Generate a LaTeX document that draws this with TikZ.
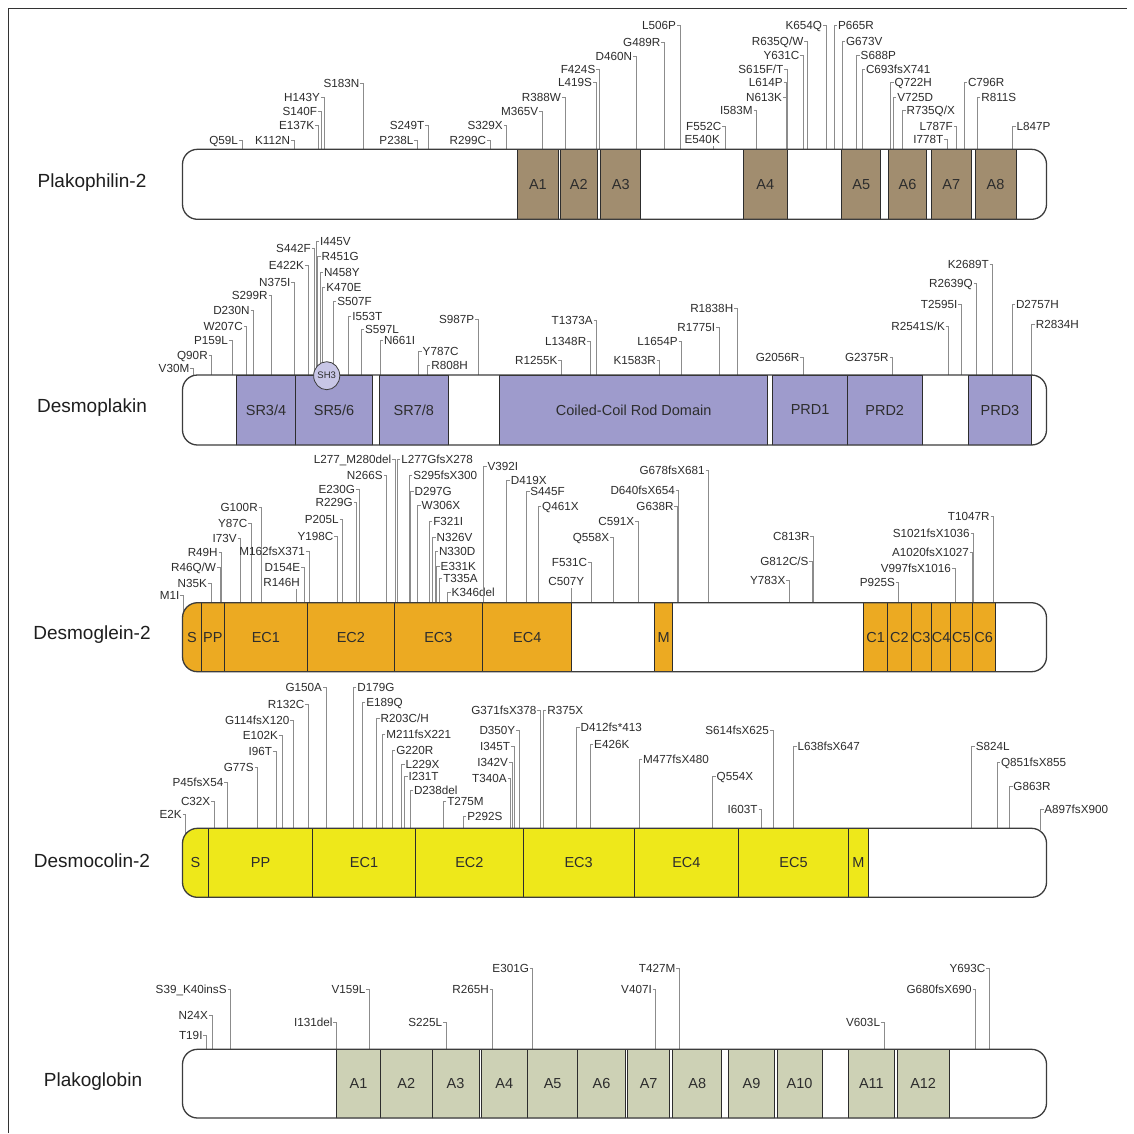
\documentclass[tikz,border=0pt]{standalone}
\usepackage{fontspec}
\setmainfont{Liberation Sans}
\usetikzlibrary{shapes.geometric}
\definecolor{pkpc}{RGB}{161,141,111}
\definecolor{dspc}{RGB}{158,155,204}
\definecolor{dsgc}{RGB}{236,170,34}
\definecolor{dscc}{RGB}{238,232,26}
\definecolor{jupc}{RGB}{205,209,181}
\definecolor{sh3c}{RGB}{200,198,230}
\definecolor{labc}{RGB}{45,45,45}
\definecolor{leadc}{RGB}{140,140,140}
\definecolor{domc}{RGB}{45,45,45}
\definecolor{barc}{RGB}{60,60,60}
\definecolor{namec}{RGB}{30,30,30}
\newcount\mylbc
\newcommand\labL[3]{\global\advance\mylbc by 1
  \node[lab,anchor=east] (lab\the\mylbc) at ({#1-3.8},#2) {#3};
  \draw[lead] ([xshift=0.7pt]lab\the\mylbc.east) -- (#1,#2) -- (#1,{\BT+2});}
\newcommand\labLe[4]{\global\advance\mylbc by 1
  \node[lab,anchor=east] (lab\the\mylbc) at ({#1-3.8},#2) {#4};
  \draw[lead] ([xshift=0.7pt]lab\the\mylbc.east) -- (#1,#2) -- (#1,#3);}
\newcommand\labR[3]{\global\advance\mylbc by 1
  \node[lab,anchor=west] (lab\the\mylbc) at ({#1+3.8},#2) {#3};
  \draw[lead] ([xshift=-0.7pt]lab\the\mylbc.west) -- (#1,#2) -- (#1,{\BT+2});}
\newcommand\labU[4]{\global\advance\mylbc by 1
  \node[lab,anchor=east] (lab\the\mylbc) at (#1,#2) {#4};
  \draw[lead] (#3,{#2+6.5}) -- (#3,{\BT+2});}
\newcommand\dombox[3]{\global\advance\mylbc by 1
  \draw[dom,fill=\BC] (#1,\BT) rectangle (#2,\BB);
  \node[dlab] (dom\the\mylbc) at ({(#1+#2)/2},{(\BT+\BB)/2}) {#3};}
\newcommand\barclip{\clip[rounded corners=15pt] (182.5,\BT) rectangle (1046.5,\BB);
  \fill[white] (182.5,\BT) rectangle (1046.5,\BB);}
\newcommand\baroutline{\draw[outline] (182.5,\BT) rectangle (1046.5,\BB);}
\begin{document}
\begin{tikzpicture}[x=1pt,y=-1pt,
  lab/.style={font=\fontsize{11.7}{13}\selectfont, text=labc, inner sep=0pt, text height=8.4pt, text depth=0pt},
  lead/.style={draw=leadc, line width=0.9pt},
  dom/.style={draw=domc, line width=1pt},
  dlab/.style={font=\fontsize{14.5}{16}\selectfont, text=labc, inner sep=0pt},
  pname/.style={font=\fontsize{19}{22}\selectfont, text=namec, inner sep=0pt},
  outline/.style={draw=barc, line width=1.3pt, rounded corners=15pt}]
\useasboundingbox (0,0) rectangle (1134,1133);
\fill[white] (0,0) rectangle (1134,1133);
\draw[line width=1.2pt, draw=black!80] (8.5,1133) -- (8.5,8.5) -- (1126.5,8.5);

%% ---------------- Plakophilin-2
\def\BT{149.3}\def\BB{219.3}\def\BC{pkpc}
\node[pname] (pkp) at (92,183) {Plakophilin-2};
\labL{242}{140}{Q59L}
\labL{294}{140}{K112N}
\labL{318.3}{125.5}{E137K}
\labL{321}{111.5}{S140F}
\labL{324}{97}{H143Y}
\labL{363.3}{83}{S183N}
\labL{417.3}{140}{P238L}
\labL{428.3}{125.5}{S249T}
\labL{490}{140}{R299C}
\labL{506.7}{125.5}{S329X}
\labL{542.3}{111.5}{M365V}
\labL{565}{97.3}{R388W}
\labL{596}{82.7}{L419S}
\labL{599.3}{69.3}{F424S}
\labL{636}{56.7}{D460N}
\labL{664.3}{42}{G489R}
\labL{680}{25.3}{L506P}
\labU{720}{139.5}{713}{E540K}
\labL{725.3}{126}{F552C}
\labL{756.7}{110.7}{I583M}
\labL{786}{97.3}{N613K}
\labL{786.7}{82.7}{L614P}
\labL{787.3}{69.3}{S615F/T}
\labL{803.3}{55}{Y631C}
\labL{807.3}{41.7}{R635Q/W}
\labL{826}{25}{K654Q}
\labR{834}{25}{P665R}
\labR{842}{41.7}{G673V}
\labR{856.7}{55}{S688P}
\labR{862}{69.3}{C693fsX741}
\labR{890.7}{82.7}{Q722H}
\labR{893.3}{97.3}{V725D}
\labR{902.7}{110.7}{R735Q/X}
\labL{947.3}{139.3}{I778T}
\labL{956.7}{126}{L787F}
\labR{964}{82.7}{C796R}
\labR{977.3}{97.3}{R811S}
\labR{1012.7}{126}{L847P}
\begin{scope}
\barclip
\dombox{517.3}{558.5}{A1}
\dombox{560.5}{597}{A2}
\dombox{600.7}{640.7}{A3}
\dombox{743.3}{787.3}{A4}
\dombox{841.7}{880.7}{A5}
\dombox{888.3}{926.7}{A6}
\dombox{931}{971.7}{A7}
\dombox{975}{1016}{A8}
\end{scope}
\baroutline

%% ---------------- Desmoplakin
\def\BT{375}\def\BB{445}\def\BC{dspc}
\node[pname] (dsp) at (92,408) {Desmoplakin};
\labL{193.3}{368.3}{V30M}
\labL{211.7}{355}{Q90R}
\labL{232}{340.7}{P159L}
\labL{246.7}{326}{W207C}
\labL{253.7}{310}{D230N}
\labL{271.7}{295}{S299R}
\labL{294.3}{282}{N375I}
\labL{308}{265}{E422K}
\labL{314.7}{248.3}{S442F}
\labR{316}{241.7}{I445V}
\labR{317.7}{256.7}{R451G}
\labR{320}{272.3}{N458Y}
\labR{322.3}{287.3}{K470E}
\labR{333.3}{301.7}{S507F}
\labR{348.3}{316}{I553T}
\labR{361}{329.3}{S597L}
\labR{380}{340.5}{N661I}
\labR{418.7}{351.7}{Y787C}
\labR{427.3}{365}{R808H}
\labL{478.3}{319.3}{S987P}
\labL{561.5}{360}{R1255K}
\labL{590.2}{341.5}{L1348R}
\labL{596.7}{320}{T1373A}
\labL{659.9}{360}{K1583R}
\labL{681.7}{341.5}{L1654P}
\labL{719.2}{327}{R1775I}
\labL{737.2}{308}{R1838H}
\labL{803.4}{357}{G2056R}
\labL{892.6}{357}{G2375R}
\labL{948.8}{326}{R2541S/K}
\labL{961.4}{304}{T2595I}
\labL{976.7}{283.3}{R2639Q}
\labL{992.8}{264.5}{K2689T}
\labR{1012}{304}{D2757H}
\labR{1031.9}{324}{R2834H}
\begin{scope}
\barclip
\dombox{236.7}{295.3}{SR3/4}
\dombox{295.3}{372.7}{SR5/6}
\dombox{379.3}{448.3}{SR7/8}
\dombox{499.5}{767.8}{Coiled-Coil Rod Domain}
\dombox{772.8}{847.4}{PRD1}
\dombox{847.4}{922}{PRD2}
\dombox{968}{1031.9}{PRD3}
\end{scope}
\baroutline
\node[ellipse, draw=barc, line width=0.8pt, fill=sh3c, minimum width=23.4pt, minimum height=28pt, inner sep=0pt, font=\fontsize{9.5}{10}\selectfont, text=labc] (sh3) at (326.7,375.7) {SH3};

%% ---------------- Desmoglein-2
\def\BT{602.7}\def\BB{671.7}\def\BC{dsgc}
\node[pname] (dsg) at (92,635) {Desmoglein-2};
\labLe{183.3}{595.7}{616}{M1I}
\labL{211}{583.3}{N35K}
\labL{220}{567.3}{R46Q/W}
\labL{221.7}{552.7}{R49H}
\labL{240.7}{538.7}{I73V}
\labL{251.3}{523.3}{Y87C}
\labL{261.7}{507.3}{G100R}
\labU{300}{582.7}{296.7}{R146H}
\labL{304.3}{567.3}{D154E}
\labL{309}{551.7}{M162fsX371}
\labL{337.3}{536.7}{Y198C}
\labL{342.7}{519.3}{P205L}
\labL{356.7}{502.7}{R229G}
\labL{359}{489.3}{E230G}
\labL{386.7}{475}{N266S}
\labL{395.3}{459.3}{L277\_M280del}
\labR{397.3}{459.3}{L277GfsX278}
\labR{409.3}{475}{S295fsX300}
\labR{410.7}{491.7}{D297G}
\labR{417.7}{505}{W306X}
\labR{429.3}{521}{F321I}
\labR{432.7}{537.3}{N326V}
\labR{435}{551.7}{N330D}
\labR{436.7}{566.7}{E331K}
\labR{439.3}{578.3}{T335A}
\labR{447.7}{592.3}{K346del}
\labR{483.6}{466.7}{V392I}
\labR{506.8}{480}{D419X}
\labR{526.4}{491.7}{S445F}
\labR{538.2}{506}{Q461X}
\labU{584.3}{581.7}{571.8}{C507Y}
\labL{591}{562.7}{F531C}
\labL{613.2}{537.7}{Q558X}
\labL{638.2}{521.7}{C591X}
\labL{677.5}{506.7}{G638R}
\labL{678.9}{490}{D640fsX654}
\labL{708.6}{470.7}{G678fsX681}
\labL{789.3}{580}{Y783X}
\labL{812.5}{561}{G812C/S}
\labL{813.5}{536.7}{C813R}
\labL{898.9}{582}{P925S}
\labL{955}{568.3}{V997fsX1016}
\labL{972.9}{552.7}{A1020fsX1027}
\labL{973.6}{533.3}{S1021fsX1036}
\labL{993.6}{516}{T1047R}
\begin{scope}
\barclip
\dombox{170}{201.7}{}
\node[dlab] (dsgS) at (192,637.2) {S};
\dombox{201.7}{224}{PP}
\dombox{224}{307.7}{EC1}
\dombox{307.7}{394}{EC2}
\dombox{394}{482.7}{EC3}
\dombox{482.7}{571.8}{EC4}
\dombox{654.3}{672.9}{M}
\dombox{863.2}{887.9}{C1}
\dombox{887.9}{911.1}{C2}
\dombox{911.1}{931.4}{C3}
\dombox{931.4}{950.7}{C4}
\dombox{950.7}{972.1}{C5}
\dombox{972.1}{995}{C6}
\end{scope}
\baroutline

%% ---------------- Desmocolin-2
\def\BT{828.3}\def\BB{897.3}\def\BC{dscc}
\node[pname] (dsc) at (92,861) {Desmocolin-2};
\labLe{185.7}{814.3}{838}{E2K}
\labL{214.3}{801}{C32X}
\labL{227.3}{782.3}{P45fsX54}
\labL{257.7}{767.3}{G77S}
\labL{276}{751.7}{I96T}
\labL{282}{735.7}{E102K}
\labL{293.3}{720}{G114fsX120}
\labL{308.3}{704.3}{R132C}
\labL{326}{687.7}{G150A}
\labR{353.3}{687.7}{D179G}
\labR{362.3}{702.7}{E189Q}
\labR{376.7}{718.3}{R203C/H}
\labR{382.3}{734.3}{M211fsX221}
\labR{392.3}{750}{G220R}
\labR{401.7}{764.3}{L229X}
\labR{404.7}{776}{I231T}
\labR{410}{790}{D238del}
\labR{443.3}{801.7}{T275M}
\labR{463.3}{816}{P292S}
\labL{510.7}{778.3}{T340A}
\labL{512}{762.3}{I342V}
\labL{514}{746.7}{I345T}
\labL{519.3}{730}{D350Y}
\labL{540.4}{710}{G371fsX378}
\labR{543.3}{710}{R375X}
\labR{576.7}{727.7}{D412fs*413}
\labR{590.2}{744.3}{E426K}
\labR{639.2}{759.3}{M477fsX480}
\labR{712.7}{776}{Q554X}
\labL{761.6}{809.3}{I603T}
\labL{773}{730.7}{S614fsX625}
\labR{793.5}{746}{L638fsX647}
\labR{971.8}{746}{S824L}
\labR{997.1}{762.7}{Q851fsX855}
\labR{1009.4}{786}{G863R}
\labR{1040.4}{809.3}{A897fsX900}
\begin{scope}
\barclip
\dombox{170}{208.7}{}
\node[dlab] (dscS) at (195.5,862.8) {S};
\dombox{208.7}{312.3}{PP}
\dombox{312.3}{415.7}{EC1}
\dombox{415.7}{523}{EC2}
\dombox{523}{634.3}{EC3}
\dombox{634.3}{738.4}{EC4}
\dombox{738.4}{848.6}{EC5}
\dombox{848.6}{868.2}{M}
\end{scope}
\baroutline

%% ---------------- Plakoglobin
\def\BT{1049.3}\def\BB{1118}\def\BC{jupc}
\node[pname] (jup) at (93,1082) {Plakoglobin};
\labL{206.5}{1035}{T19I}
\labL{212}{1015}{N24X}
\labL{230.6}{989.3}{S39\_K40insS}
\labL{336.5}{1022}{I131del}
\labL{369.4}{989.3}{V159L}
\labL{446.2}{1022}{S225L}
\labL{492.8}{989.3}{R265H}
\labL{532.9}{968.5}{E301G}
\labL{655.8}{989.3}{V407I}
\labL{679.4}{968.5}{T427M}
\labL{884}{1022}{V603L}
\labL{975.6}{989.3}{G680fsX690}
\labL{989.3}{968.5}{Y693C}
\begin{scope}
\barclip
\dombox{336.5}{380.4}{A1}
\dombox{380.4}{432}{A2}
\dombox{432}{479.1}{A3}
\dombox{481.3}{527.4}{A4}
\dombox{527.4}{577.9}{A5}
\dombox{577.9}{625}{A6}
\dombox{627.8}{669.5}{A7}
\dombox{672.8}{721.6}{A8}
\dombox{728.7}{774.2}{A9}
\dombox{777}{822}{A10}
\dombox{848.3}{894.4}{A11}
\dombox{897.1}{949.2}{A12}
\end{scope}
\baroutline
\end{tikzpicture}
\end{document}
